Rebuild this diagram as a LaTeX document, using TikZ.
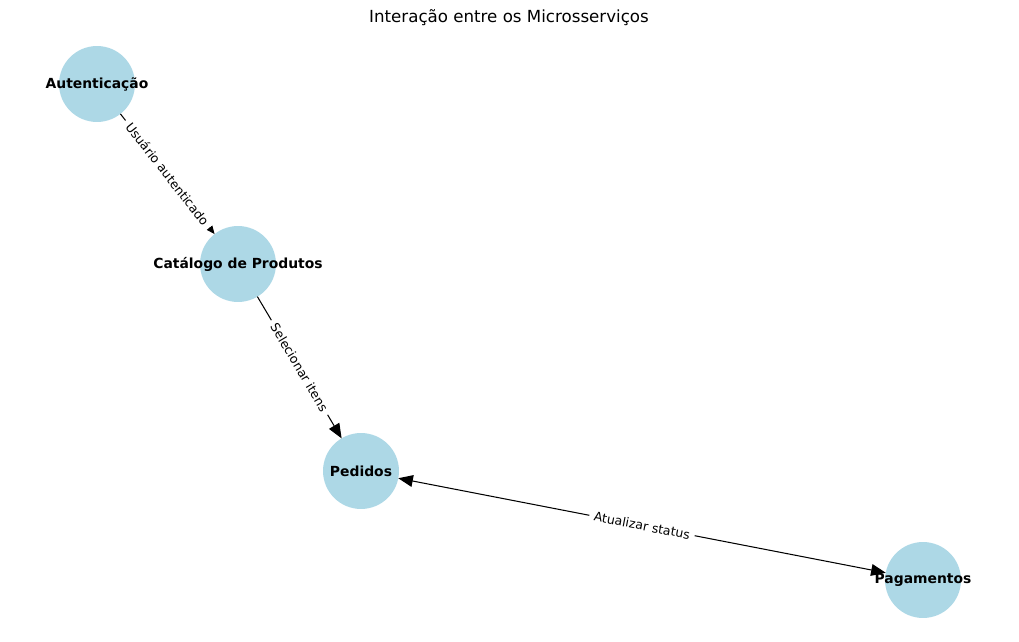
\documentclass[tikz,border=0pt]{standalone}
\usepackage{fontspec}
\setmainfont{DejaVu Sans}
\usetikzlibrary{arrows.meta}
\definecolor{nodeblue}{HTML}{ADD8E6}
\begin{document}
\begin{tikzpicture}[x=0.72pt,y=-0.72pt,
 svc/.style={circle,fill=nodeblue,minimum size=54.7pt,inner sep=0pt,outer sep=0pt},
 lbl/.style={font=\fontsize{10}{12}\selectfont\bfseries,inner sep=0pt},
 elbl/.style={font=\fontsize{9}{11}\selectfont,fill=white,inner xsep=3.5pt,inner ysep=1pt,sloped,midway},
 edgeline/.style={line width=0.75pt,black},
 smalltip/.style={-{Triangle[length=6pt,width=5pt]}},
 bigtip/.style={-{Triangle[length=10.5pt,width=8.5pt]}},
 bothtip/.style={{Triangle[length=10.5pt,width=8.5pt]}-{Triangle[length=10.5pt,width=8.5pt]}}]
\useasboundingbox (0,0) rectangle (1019,642);
\node[font=\fontsize{12}{14}\selectfont] (title) at (509,18) {Interação entre os Microsserviços};
\node[svc] (auth) at (97,84) {};
\node[svc] (cat) at (238,264) {};
\node[svc] (ped) at (361,471) {};
\node[svc] (pag) at (923,580) {};
\draw[edgeline,smalltip] (auth) -- node[elbl] (l1) {Usuário autenticado} (cat);
\draw[edgeline,bigtip] (cat) -- node[elbl] (l2) {Selecionar itens} (ped);
\draw[edgeline,bothtip] (ped) -- node[elbl] (l3) {Atualizar status} (pag);
\node[lbl] (tauth) at (auth) {Autenticação};
\node[lbl] (tcat) at (cat) {Catálogo de Produtos};
\node[lbl] (tped) at (ped) {Pedidos};
\node[lbl] (tpag) at (pag) {Pagamentos};
\end{tikzpicture}
\end{document}
